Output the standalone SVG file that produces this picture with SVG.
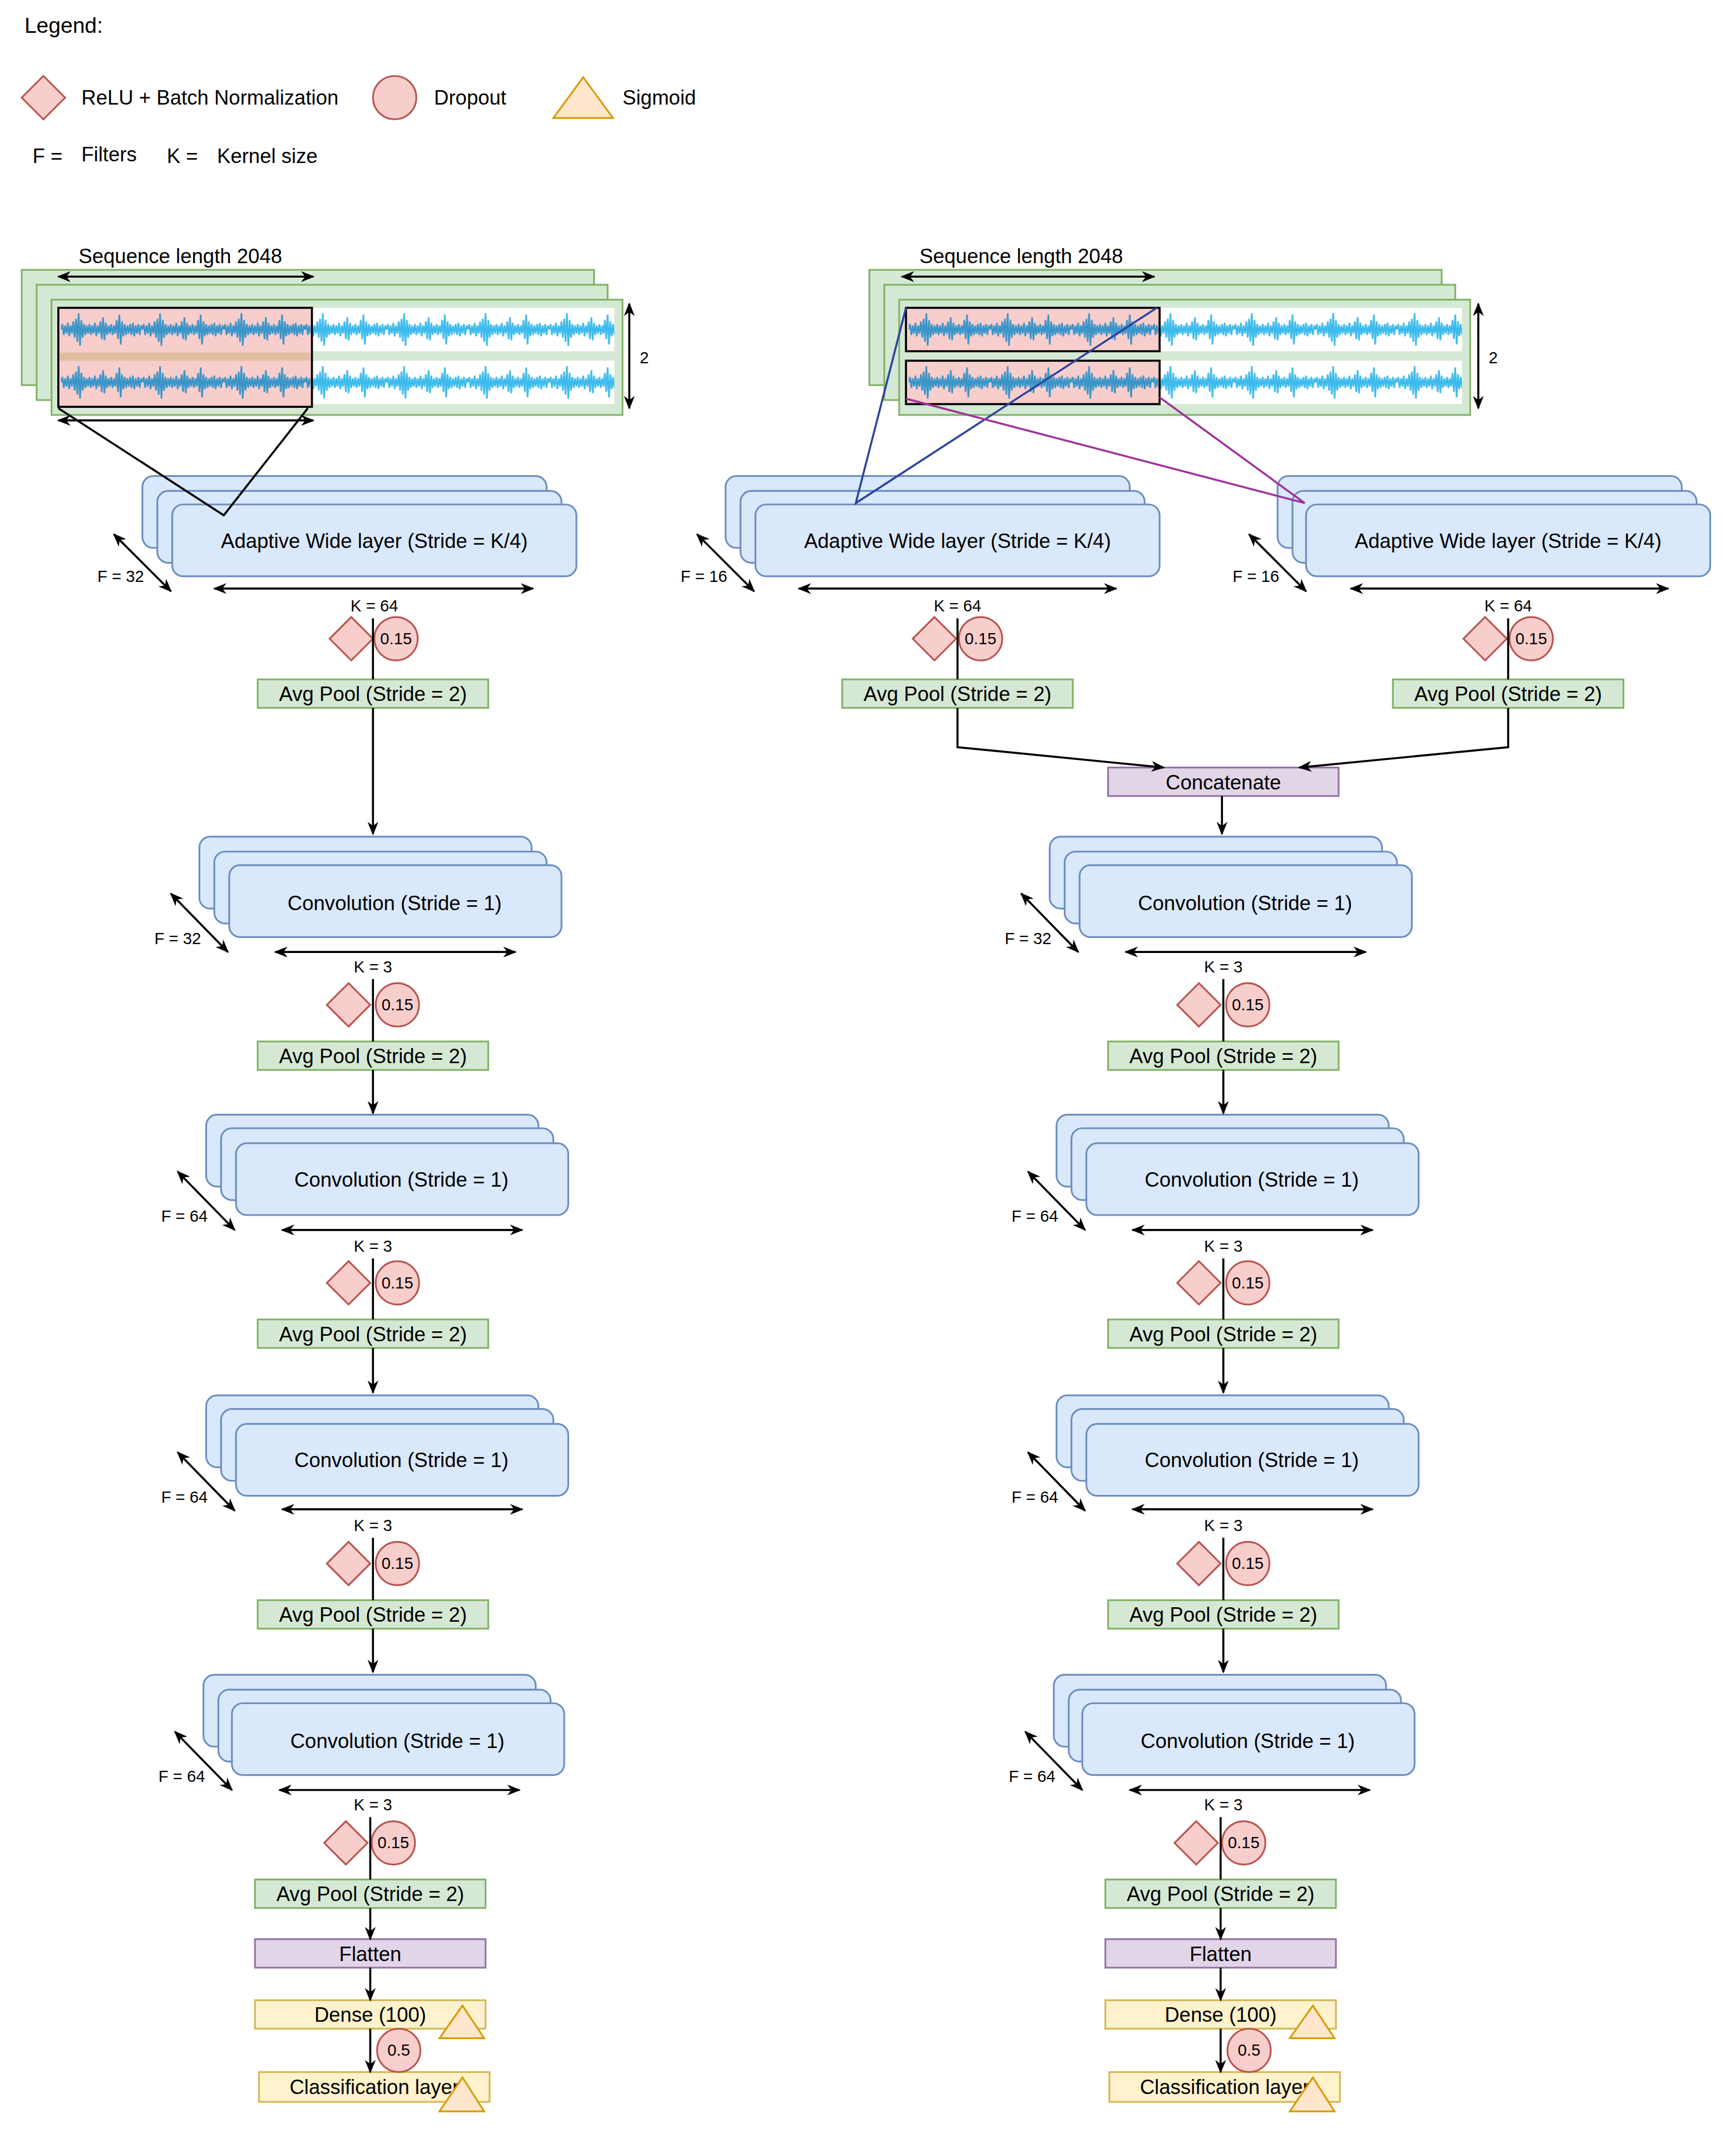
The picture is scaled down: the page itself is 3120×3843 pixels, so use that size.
<svg xmlns="http://www.w3.org/2000/svg" width="3120" height="3843" viewBox="0 0 3120 3843">
<style>
text{font-family:"Liberation Sans",Arial,sans-serif;fill:#000}
.t14{font-size:15px;text-anchor:middle}
.t11{font-size:12px;text-anchor:middle}
.tl{font-size:15px}
.grn{fill:#d5e8d4;stroke:#82b366;stroke-width:1.3}
.blu{fill:#dae8fc;stroke:#6c8ebf;stroke-width:1.3}
.red{fill:#f8cecc;stroke:#b85450;stroke-width:1.3}
.pur{fill:#e1d5e7;stroke:#9673a6;stroke-width:1.3}
.yel{fill:#fff2cc;stroke:#d6b656;stroke-width:1.3}
.tri{fill:#ffe6cc;stroke:#d79b00;stroke-width:1.3}
.ln{fill:none;stroke:#000;stroke-width:1.5}
.arr{fill:none;stroke:#000;stroke-width:1.5;marker-end:url(#ah)}
.dbl{fill:none;stroke:#000;stroke-width:1.5;marker-end:url(#ah);marker-start:url(#ahs)}
</style>
<defs>
<marker id="ah" markerUnits="userSpaceOnUse" markerWidth="10" markerHeight="8" refX="9" refY="4" orient="auto"><path d="M0,0 L10,4 L0,8 L3,4 z" fill="#000"/></marker>
<marker id="ahs" markerUnits="userSpaceOnUse" markerWidth="10" markerHeight="8" refX="1" refY="4" orient="auto"><path d="M10,0 L0,4 L10,8 L7,4 z" fill="#000"/></marker>
<pattern id="wave" patternUnits="userSpaceOnUse" width="60" height="32"><path d="M0,16 L1,12 2,20 3,13 4,19 5,11 6,21 7,13 8,19 9,10 10,22 11,8 12,25 13,4 14,28 15,9 16,22 17,12 18,20 19,13 20,19 21,12 22,20 23,13 24,19 25,11 26,21 27,13 28,19 29,10 30,23 31,7 32,24 33,11 34,20 35,13 36,19 37,12 38,20 39,13 40,19 41,9 42,23 43,5 44,27 45,10 46,21 47,12 48,20 49,13 50,19 51,12 52,20 53,11 54,21 55,13 56,19 57,12 58,20 59,13 60,16" fill="none" stroke="#3dbbec" stroke-width="1.2"/></pattern>
<pattern id="waved" patternUnits="userSpaceOnUse" width="60" height="32"><path d="M0,16 L1,12 2,20 3,13 4,19 5,11 6,21 7,13 8,19 9,10 10,22 11,8 12,25 13,4 14,28 15,9 16,22 17,12 18,20 19,13 20,19 21,12 22,20 23,13 24,19 25,11 26,21 27,13 28,19 29,10 30,23 31,7 32,24 33,11 34,20 35,13 36,19 37,12 38,20 39,13 40,19 41,9 42,23 43,5 44,27 45,10 46,21 47,12 48,20 49,13 50,19 51,12 52,20 53,11 54,21 55,13 56,19 57,12 58,20 59,13 60,16" fill="none" stroke="#3a95c9" stroke-width="1.2"/></pattern>
</defs>
<rect width="3120" height="3843" fill="#fff"/>
<g transform="scale(2.4375)">
<g id="legend">
<text x="18" y="24" class="tl" style="font-size:16px">Legend:</text>
<path d="M32,56 L48,72 L32,88 L16,72 z" class="red"/>
<text x="60" y="77" class="tl">ReLU + Batch Normalization</text>
<circle cx="291" cy="72" r="16" class="red"/>
<text x="320" y="77" class="tl">Dropout</text>
<path d="M408,87 L430,57 L452,87 z" class="tri"/>
<text x="459" y="77" class="tl">Sigmoid</text>
<text x="24" y="120" class="tl">F =</text>
<text x="60" y="119" class="tl">Filters</text>
<text x="123" y="120" class="tl">K =</text>
<text x="160" y="120" class="tl">Kernel size</text>
</g>

<g id="input-left">
<rect x="16" y="199" width="422" height="85" class="grn"/>
<rect x="27" y="210" width="421" height="85" class="grn"/>
<rect x="38" y="221" width="421" height="85" class="grn"/>
<g transform="translate(45,227)"><rect width="408" height="32" fill="#fff"/><rect width="408" height="32" fill="url(#wave)"/></g>
<g transform="translate(45,266)"><rect width="408" height="32" fill="#fff"/><rect width="408" height="32" fill="url(#wave)"/></g>
<rect x="43" y="227" width="187" height="73" fill="#f8cecc"/>
<rect x="44" y="260" width="185" height="6" fill="#dfbea0"/>
<g transform="translate(45,227)"><rect width="184" height="32" fill="url(#waved)"/></g>
<g transform="translate(45,266)"><rect width="184" height="32" fill="url(#waved)"/></g>
<rect x="43" y="227" width="187" height="73" fill="none" stroke="#000" stroke-width="1.5"/>
<text x="133" y="194" class="t14">Sequence length 2048</text>
<text x="475" y="268" class="t11">2</text>
</g>

<g id="input-right">
<rect x="641" y="199" width="422" height="85" class="grn"/>
<rect x="652" y="210" width="421" height="85" class="grn"/>
<rect x="663" y="221" width="421" height="85" class="grn"/>
<g transform="translate(670,227)"><rect width="408" height="32" fill="#fff"/><rect width="408" height="32" fill="url(#wave)"/></g>
<g transform="translate(670,266)"><rect width="408" height="32" fill="#fff"/><rect width="408" height="32" fill="url(#wave)"/></g>
<rect x="668" y="227" width="187" height="32" fill="#f8cecc"/>
<rect x="668" y="266" width="187" height="32" fill="#f8cecc"/>
<g transform="translate(670,227)"><rect width="184" height="32" fill="url(#waved)"/></g>
<g transform="translate(670,266)"><rect width="184" height="32" fill="url(#waved)"/></g>
<rect x="668" y="227" width="187" height="32" fill="none" stroke="#000" stroke-width="1.5"/>
<rect x="668" y="266" width="187" height="32" fill="none" stroke="#000" stroke-width="1.5"/>
<text x="753" y="194" class="t14">Sequence length 2048</text>
<text x="1101" y="268" class="t11">2</text>
</g>

<g id="aw-left">
<rect x="105" y="351" width="298" height="53" rx="8" class="blu"/>
<rect x="116" y="362" width="298" height="53" rx="8" class="blu"/>
<rect x="127" y="372" width="298" height="53" rx="8" class="blu"/>
<text x="276" y="404" class="t14">Adaptive Wide layer (Stride = K/4)</text>
<text x="89" y="429" class="t11">F = 32</text>
<text x="276" y="451" class="t11">K = 64</text>
<path d="M259,455 L275,471 L259,487 L243,471 z" class="red"/>
<circle cx="292" cy="471" r="16" class="red"/>
<text x="292" y="475" class="t11">0.15</text>
<rect x="190" y="501" width="170" height="21" class="grn"/>
<text x="275" y="517" class="t14">Avg Pool (Stride = 2)</text>
</g>

<g id="aw-right1">
<rect x="535" y="351" width="298" height="53" rx="8" class="blu"/>
<rect x="546" y="362" width="298" height="53" rx="8" class="blu"/>
<rect x="557" y="372" width="298" height="53" rx="8" class="blu"/>
<text x="706" y="404" class="t14">Adaptive Wide layer (Stride = K/4)</text>
<text x="519" y="429" class="t11">F = 16</text>
<text x="706" y="451" class="t11">K = 64</text>
<path d="M689,455 L705,471 L689,487 L673,471 z" class="red"/>
<circle cx="723" cy="471" r="16" class="red"/>
<text x="723" y="475" class="t11">0.15</text>
<rect x="621" y="501" width="170" height="21" class="grn"/>
<text x="706" y="517" class="t14">Avg Pool (Stride = 2)</text>
</g>

<g id="aw-right2">
<rect x="942" y="351" width="298" height="53" rx="8" class="blu"/>
<rect x="953" y="362" width="298" height="53" rx="8" class="blu"/>
<rect x="963" y="372" width="298" height="53" rx="8" class="blu"/>
<text x="1112" y="404" class="t14">Adaptive Wide layer (Stride = K/4)</text>
<text x="926" y="429" class="t11">F = 16</text>
<text x="1112" y="451" class="t11">K = 64</text>
<path d="M1095,455 L1111,471 L1095,487 L1079,471 z" class="red"/>
<circle cx="1129" cy="471" r="16" class="red"/>
<text x="1129" y="475" class="t11">0.15</text>
<rect x="1027" y="501" width="170" height="21" class="grn"/>
<text x="1112" y="517" class="t14">Avg Pool (Stride = 2)</text>
</g>

<g id="concat">
<rect x="817" y="566" width="170" height="21" class="pur"/>
<text x="902" y="582" class="t14">Concatenate</text>
</g>

<g id="conv-l1">
<rect x="147" y="617" width="245" height="53" rx="8" class="blu"/>
<rect x="158" y="628" width="245" height="53" rx="8" class="blu"/>
<rect x="169" y="638" width="245" height="53" rx="8" class="blu"/>
<text x="291" y="671" class="t14">Convolution (Stride = 1)</text>
<text x="131" y="696" class="t11">F = 32</text>
<text x="275" y="717" class="t11">K = 3</text>
<path d="M257,725 L273,741 L257,757 L241,741 z" class="red"/>
<circle cx="293" cy="741" r="16" class="red"/>
<text x="293" y="745" class="t11">0.15</text>
<rect x="190" y="768" width="170" height="21" class="grn"/>
<text x="275" y="784" class="t14">Avg Pool (Stride = 2)</text>
</g>
<g id="conv-l2">
<rect x="152" y="822" width="245" height="53" rx="8" class="blu"/>
<rect x="163" y="832" width="245" height="53" rx="8" class="blu"/>
<rect x="174" y="843" width="245" height="53" rx="8" class="blu"/>
<text x="296" y="875" class="t14">Convolution (Stride = 1)</text>
<text x="136" y="901" class="t11">F = 64</text>
<text x="275" y="923" class="t11">K = 3</text>
<path d="M257,930 L273,946 L257,962 L241,946 z" class="red"/>
<circle cx="293" cy="946" r="16" class="red"/>
<text x="293" y="950" class="t11">0.15</text>
<rect x="190" y="973" width="170" height="21" class="grn"/>
<text x="275" y="989" class="t14">Avg Pool (Stride = 2)</text>
</g>
<g id="conv-l3">
<rect x="152" y="1029" width="245" height="53" rx="8" class="blu"/>
<rect x="163" y="1039" width="245" height="53" rx="8" class="blu"/>
<rect x="174" y="1050" width="245" height="53" rx="8" class="blu"/>
<text x="296" y="1082" class="t14">Convolution (Stride = 1)</text>
<text x="136" y="1108" class="t11">F = 64</text>
<text x="275" y="1129" class="t11">K = 3</text>
<path d="M257,1137 L273,1153 L257,1169 L241,1153 z" class="red"/>
<circle cx="293" cy="1153" r="16" class="red"/>
<text x="293" y="1157" class="t11">0.15</text>
<rect x="190" y="1180" width="170" height="21" class="grn"/>
<text x="275" y="1196" class="t14">Avg Pool (Stride = 2)</text>
</g>
<g id="conv-l4">
<rect x="150" y="1235" width="245" height="53" rx="8" class="blu"/>
<rect x="161" y="1246" width="245" height="53" rx="8" class="blu"/>
<rect x="171" y="1256" width="245" height="53" rx="8" class="blu"/>
<text x="293" y="1289" class="t14">Convolution (Stride = 1)</text>
<text x="134" y="1314" class="t11">F = 64</text>
<text x="275" y="1335" class="t11">K = 3</text>
<path d="M255,1343 L271,1359 L255,1375 L239,1359 z" class="red"/>
<circle cx="290" cy="1359" r="16" class="red"/>
<text x="290" y="1363" class="t11">0.15</text>
<rect x="188" y="1386" width="170" height="21" class="grn"/>
<text x="273" y="1402" class="t14">Avg Pool (Stride = 2)</text>
</g>
<g id="flatten-l"><rect x="188" y="1430" width="170" height="21" class="pur"/><text x="273" y="1446" class="t14">Flatten</text></g>
<g id="dense-l"><rect x="188" y="1475" width="170" height="21" class="yel"/><text x="273" y="1491" class="t14">Dense (100)</text><path d="M324,1503 L341,1479 L357,1503 z" class="tri"/></g>
<g id="class-l"><rect x="191" y="1528" width="170" height="22" class="yel"/><text x="276" y="1544" class="t14">Classification layer</text><path d="M324,1557 L341,1532 L357,1557 z" class="tri"/><circle cx="294" cy="1512" r="16" class="red"/><text x="294" y="1516" class="t11">0.5</text></g>

<g id="conv-r1" transform="translate(627,0)">
<rect x="147" y="617" width="245" height="53" rx="8" class="blu"/>
<rect x="158" y="628" width="245" height="53" rx="8" class="blu"/>
<rect x="169" y="638" width="245" height="53" rx="8" class="blu"/>
<text x="291" y="671" class="t14">Convolution (Stride = 1)</text>
<text x="131" y="696" class="t11">F = 32</text>
<text x="275" y="717" class="t11">K = 3</text>
<path d="M257,725 L273,741 L257,757 L241,741 z" class="red"/>
<circle cx="293" cy="741" r="16" class="red"/>
<text x="293" y="745" class="t11">0.15</text>
<rect x="190" y="768" width="170" height="21" class="grn"/>
<text x="275" y="784" class="t14">Avg Pool (Stride = 2)</text>
</g>
<g id="conv-r2" transform="translate(627,0)">
<rect x="152" y="822" width="245" height="53" rx="8" class="blu"/>
<rect x="163" y="832" width="245" height="53" rx="8" class="blu"/>
<rect x="174" y="843" width="245" height="53" rx="8" class="blu"/>
<text x="296" y="875" class="t14">Convolution (Stride = 1)</text>
<text x="136" y="901" class="t11">F = 64</text>
<text x="275" y="923" class="t11">K = 3</text>
<path d="M257,930 L273,946 L257,962 L241,946 z" class="red"/>
<circle cx="293" cy="946" r="16" class="red"/>
<text x="293" y="950" class="t11">0.15</text>
<rect x="190" y="973" width="170" height="21" class="grn"/>
<text x="275" y="989" class="t14">Avg Pool (Stride = 2)</text>
</g>
<g id="conv-r3" transform="translate(627,0)">
<rect x="152" y="1029" width="245" height="53" rx="8" class="blu"/>
<rect x="163" y="1039" width="245" height="53" rx="8" class="blu"/>
<rect x="174" y="1050" width="245" height="53" rx="8" class="blu"/>
<text x="296" y="1082" class="t14">Convolution (Stride = 1)</text>
<text x="136" y="1108" class="t11">F = 64</text>
<text x="275" y="1129" class="t11">K = 3</text>
<path d="M257,1137 L273,1153 L257,1169 L241,1153 z" class="red"/>
<circle cx="293" cy="1153" r="16" class="red"/>
<text x="293" y="1157" class="t11">0.15</text>
<rect x="190" y="1180" width="170" height="21" class="grn"/>
<text x="275" y="1196" class="t14">Avg Pool (Stride = 2)</text>
</g>
<g id="conv-r4" transform="translate(627,0)">
<rect x="150" y="1235" width="245" height="53" rx="8" class="blu"/>
<rect x="161" y="1246" width="245" height="53" rx="8" class="blu"/>
<rect x="171" y="1256" width="245" height="53" rx="8" class="blu"/>
<text x="293" y="1289" class="t14">Convolution (Stride = 1)</text>
<text x="134" y="1314" class="t11">F = 64</text>
<text x="275" y="1335" class="t11">K = 3</text>
<path d="M255,1343 L271,1359 L255,1375 L239,1359 z" class="red"/>
<circle cx="290" cy="1359" r="16" class="red"/>
<text x="290" y="1363" class="t11">0.15</text>
<rect x="188" y="1386" width="170" height="21" class="grn"/>
<text x="273" y="1402" class="t14">Avg Pool (Stride = 2)</text>
</g>
<g id="flatten-r" transform="translate(627,0)"><rect x="188" y="1430" width="170" height="21" class="pur"/><text x="273" y="1446" class="t14">Flatten</text></g>
<g id="dense-r" transform="translate(627,0)"><rect x="188" y="1475" width="170" height="21" class="yel"/><text x="273" y="1491" class="t14">Dense (100)</text><path d="M324,1503 L341,1479 L357,1503 z" class="tri"/></g>
<g id="class-r" transform="translate(627,0)"><rect x="191" y="1528" width="170" height="22" class="yel"/><text x="276" y="1544" class="t14">Classification layer</text><path d="M324,1557 L341,1532 L357,1557 z" class="tri"/><circle cx="294" cy="1512" r="16" class="red"/><text x="294" y="1516" class="t11">0.5</text></g>

<g id="connectors">
<path d="M43,204 L231,204" class="dbl"/>
<path d="M43,310 L231,310" class="dbl"/>
<path d="M464,224 L464,301" class="dbl"/>
<path d="M665,204 L851,204" class="dbl"/>
<path d="M1090,224 L1090,301" class="dbl"/>
<path d="M43,301 L165,380 L227,301" class="ln"/>
<path d="M668,227 L631,371 L853,227" fill="none" stroke="#2e44a0" stroke-width="1.5"/>
<path d="M668,294 L962,371 L855,293" fill="none" stroke="#a0349a" stroke-width="1.5"/>
<path d="M84,394 L126,436" class="dbl"/>
<path d="M158,434 L393,434" class="dbl"/>
<path d="M514,394 L556,436" class="dbl"/>
<path d="M589,434 L823,434" class="dbl"/>
<path d="M921,394 L963,436" class="dbl"/>
<path d="M996,434 L1230,434" class="dbl"/>
<path d="M275,456 L275,501" class="ln"/>
<path d="M706,456 L706,501" class="ln"/>
<path d="M1112,456 L1112,501" class="ln"/>
<path d="M275,522 L275,615" class="arr"/>
<path d="M706,522 L706,551 L858,566" class="arr"/>
<path d="M1112,522 L1112,551 L958,566" class="arr"/>
<path d="M901,587 L901,615" class="arr"/>
<g id="conn-left">
<path d="M126,659 L168,702" class="dbl"/>
<path d="M203,702 L380,702" class="dbl"/>
<path d="M275,722 L275,768" class="ln"/>
<path d="M275,789 L275,821" class="arr"/>
<path d="M131,864 L173,907" class="dbl"/>
<path d="M208,907 L385,907" class="dbl"/>
<path d="M275,928 L275,973" class="ln"/>
<path d="M275,994 L275,1027" class="arr"/>
<path d="M131,1071 L173,1114" class="dbl"/>
<path d="M208,1113 L385,1113" class="dbl"/>
<path d="M275,1134 L275,1180" class="ln"/>
<path d="M275,1201 L275,1233" class="arr"/>
<path d="M129,1277 L171,1320" class="dbl"/>
<path d="M206,1320 L383,1320" class="dbl"/>
<path d="M273,1340 L273,1386" class="ln"/>
<path d="M273,1407 L273,1430" class="arr"/>
<path d="M273,1451 L273,1475" class="arr"/>
<path d="M273,1496 L273,1528" class="arr"/>
</g>
<g id="conn-right" transform="translate(627,0)">
<path d="M126,659 L168,702" class="dbl"/>
<path d="M203,702 L380,702" class="dbl"/>
<path d="M275,722 L275,768" class="ln"/>
<path d="M275,789 L275,821" class="arr"/>
<path d="M131,864 L173,907" class="dbl"/>
<path d="M208,907 L385,907" class="dbl"/>
<path d="M275,928 L275,973" class="ln"/>
<path d="M275,994 L275,1027" class="arr"/>
<path d="M131,1071 L173,1114" class="dbl"/>
<path d="M208,1113 L385,1113" class="dbl"/>
<path d="M275,1134 L275,1180" class="ln"/>
<path d="M275,1201 L275,1233" class="arr"/>
<path d="M129,1277 L171,1320" class="dbl"/>
<path d="M206,1320 L383,1320" class="dbl"/>
<path d="M273,1340 L273,1386" class="ln"/>
<path d="M273,1407 L273,1430" class="arr"/>
<path d="M273,1451 L273,1475" class="arr"/>
<path d="M273,1496 L273,1528" class="arr"/>
</g>
</g>
</g>
</svg>
